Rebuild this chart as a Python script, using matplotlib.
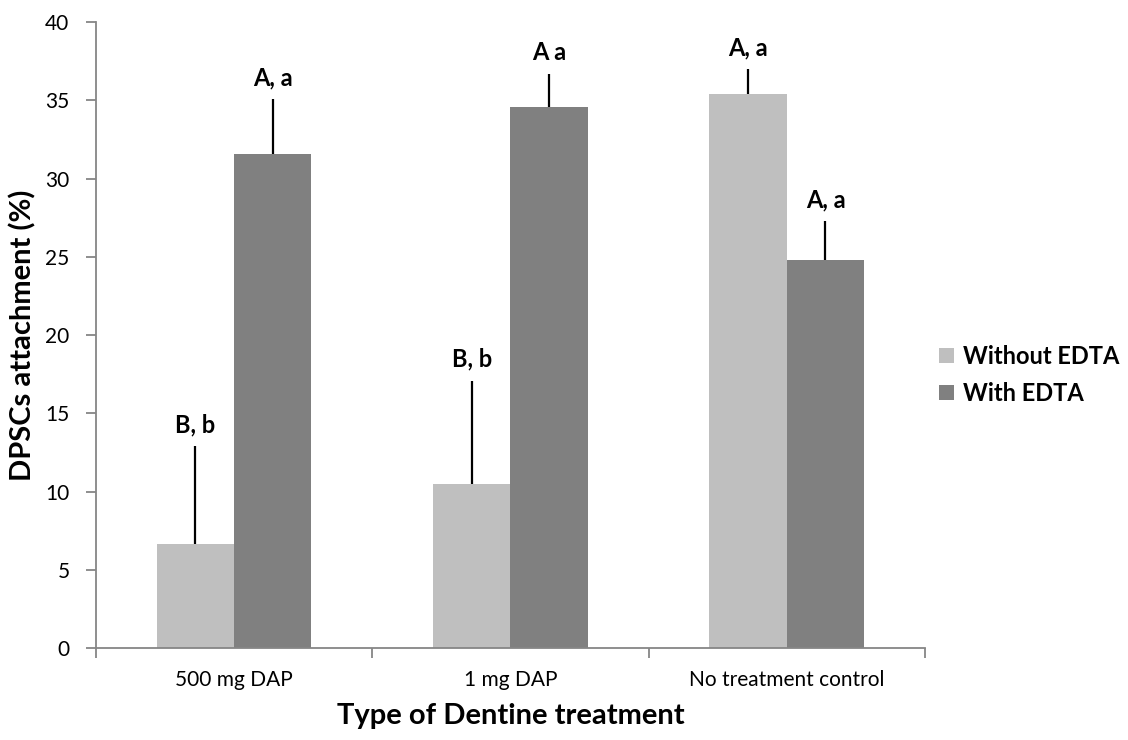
import numpy as np
import matplotlib.pyplot as plt

plt.rcParams['font.family'] = ['Lato', 'DejaVu Sans']

# data
categories = ["500 mg DAP", "1 mg DAP", "No treatment control"]
without_edta = [6.66, 10.49, 35.4]
with_edta = [31.6, 34.6, 24.8]
without_err = [6.27, 6.6, 1.6]
with_err = [3.5, 2.1, 2.5]
without_labels = ["B, b", "B, b", "A, a"]
with_labels = ["A, a", "A a", "A, a"]
series_names = ["Without EDTA", "With EDTA"]

light = "#BFBFBF"
dark = "#808080"
axis_grey = "#868686"

fig = plt.figure(figsize=(11.28, 7.40), dpi=100)
ax = fig.add_axes([0.085, 0.124, 0.735, 0.846])

x = np.arange(len(categories))
w = 0.28

b1 = ax.bar(x - w / 2, without_edta, w, color=light, label=series_names[0])
b2 = ax.bar(x + w / 2, with_edta, w, color=dark, label=series_names[1])

# upper error bars only, no caps (excel style)
ax.errorbar(x - w / 2, without_edta, yerr=[np.zeros(3), without_err],
            fmt="none", ecolor="black", elinewidth=1.6, capsize=0)
ax.errorbar(x + w / 2, with_edta, yerr=[np.zeros(3), with_err],
            fmt="none", ecolor="black", elinewidth=1.6, capsize=0)

for xs, vals, errs, labs in [(x - w / 2, without_edta, without_err, without_labels),
                             (x + w / 2, with_edta, with_err, with_labels)]:
    for xi, v, e, lab in zip(xs, vals, errs, labs):
        ax.annotate(lab, (xi, v + e), xytext=(0, 10), textcoords="offset points",
                    ha="center", va="baseline", fontsize=17, fontweight="bold")

ax.set_xlim(-0.5, len(categories) - 0.5)
ax.set_ylim(0, 40)
ax.set_yticks(np.arange(0, 41, 5))

# category labels in the middle, tick marks between categories
ax.set_xticks(x)
ax.set_xticklabels(categories, fontsize=15)
ax.tick_params(axis="x", length=0, pad=16)
ax.set_xticks(np.arange(-0.5, len(categories)), minor=True)
ax.tick_params(axis="x", which="minor", length=7, width=1.3, color=axis_grey, direction="out")
ax.tick_params(axis="y", length=7, width=1.3, color=axis_grey, direction="out", labelsize=15, pad=12)

for s in ["top", "right"]:
    ax.spines[s].set_visible(False)
for s in ["left", "bottom"]:
    ax.spines[s].set_color(axis_grey)
    ax.spines[s].set_linewidth(1.3)

ax.set_xlabel("Type of Dentine treatment", fontsize=21, fontweight="bold", labelpad=9)
ax.set_ylabel("DPSCs attachment (%)", fontsize=21, fontweight="bold", labelpad=6)

fig.legend(handles=[b1, b2], loc="center left", bbox_to_anchor=(0.814, 0.493),
           frameon=False, prop={"size": 17, "weight": "bold"},
           handlelength=0.6, handleheight=0.6, handletextpad=0.4, labelspacing=0.6)

fig.savefig("out.png", dpi=100)
